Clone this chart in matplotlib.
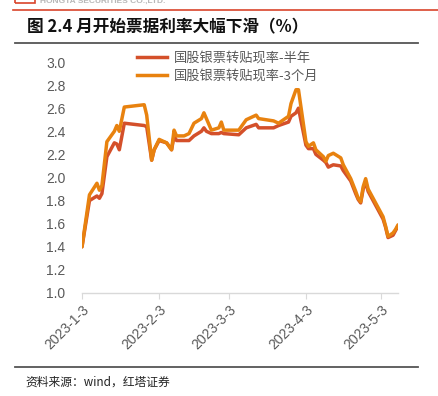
import matplotlib
matplotlib.use('Agg')
from matplotlib import pyplot as plt
from matplotlib.lines import Line2D
from matplotlib.patches import Rectangle
import pandas as pd

plt.rcParams['font.family'] = ['Liberation Sans', 'Noto Sans CJK SC', 'DejaVu Sans']

# trading days
dates = ['2023-01-03', '2023-01-06', '2023-01-09', '2023-01-10', '2023-01-11', '2023-01-13',
         '2023-01-16', '2023-01-17', '2023-01-18', '2023-01-20', '2023-01-28', '2023-01-29',
         '2023-01-31', '2023-02-01', '2023-02-03', '2023-02-06', '2023-02-08', '2023-02-09',
         '2023-02-10', '2023-02-13', '2023-02-15', '2023-02-17', '2023-02-20', '2023-02-21',
         '2023-02-22', '2023-02-24', '2023-02-27', '2023-02-28', '2023-03-01', '2023-03-07',
         '2023-03-10', '2023-03-14', '2023-03-15', '2023-03-21', '2023-03-23', '2023-03-27',
         '2023-03-28', '2023-03-30', '2023-03-31', '2023-04-03', '2023-04-04', '2023-04-06',
         '2023-04-07', '2023-04-10', '2023-04-11', '2023-04-12', '2023-04-14', '2023-04-17',
         '2023-04-18', '2023-04-20', '2023-04-21', '2023-04-23', '2023-04-24', '2023-04-25',
         '2023-04-26', '2023-04-27', '2023-04-28', '2023-05-04', '2023-05-05', '2023-05-06',
         '2023-05-08', '2023-05-09', '2023-05-10']

rate_6m = [1.40, 1.80, 1.84, 1.82, 1.86, 2.18, 2.30, 2.29, 2.24, 2.47, 2.45, 2.44,
           2.15, 2.24, 2.32, 2.30, 2.24, 2.36, 2.32, 2.32, 2.32, 2.36, 2.40, 2.43,
           2.40, 2.38, 2.38, 2.39, 2.38, 2.37, 2.43, 2.46, 2.43, 2.43, 2.45, 2.48,
           2.53, 2.56, 2.60, 2.28, 2.25, 2.25, 2.20, 2.15, 2.13, 2.09, 2.11, 2.10,
           2.06, 2.00, 1.97, 1.86, 1.81, 1.78, 1.90, 1.96, 1.88, 1.64, 1.57, 1.48,
           1.50, 1.54, 1.58]

rate_3m = [1.40, 1.85, 1.95, 1.89, 1.93, 2.31, 2.40, 2.45, 2.40, 2.61, 2.63, 2.54,
           2.15, 2.24, 2.33, 2.30, 2.24, 2.41, 2.36, 2.36, 2.38, 2.47, 2.51, 2.56,
           2.51, 2.41, 2.43, 2.48, 2.41, 2.41, 2.50, 2.54, 2.51, 2.49, 2.47, 2.53,
           2.64, 2.76, 2.76, 2.31, 2.27, 2.30, 2.24, 2.18, 2.14, 2.19, 2.21, 2.17,
           2.11, 2.03, 1.99, 1.88, 1.82, 1.79, 1.92, 1.99, 1.90, 1.66, 1.58, 1.49,
           1.52, 1.55, 1.59]

labels = ['国股银票转贴现率-半年', '国股银票转贴现率-3个月']
tick_dates = ['2023-01-03', '2023-02-03', '2023-03-03', '2023-04-03', '2023-05-03']
tick_labels = ['2023-1-3', '2023-2-3', '2023-3-3', '2023-4-3', '2023-5-3']
colors = ['#D4502A', '#E8820F']

W, H = 438, 396
fig = plt.figure(figsize=(W / 100, H / 100), dpi=100)
ax = fig.add_axes([82 / W, 1 - 293 / H, (398 - 82) / W, 231 / H])

x = pd.to_datetime(dates)
ax.plot(x, rate_6m, color=colors[0], lw=2.5, solid_joinstyle='round', solid_capstyle='round')
ax.plot(x, rate_3m, color=colors[1], lw=2.5, solid_joinstyle='round', solid_capstyle='round')

ax.set_xlim(pd.Timestamp('2023-01-03'), pd.Timestamp('2023-05-10'))
ax.set_ylim(1.0, 3.0)
ax.set_yticks([1.0 + 0.2 * i for i in range(11)])
ax.yaxis.set_major_formatter(matplotlib.ticker.FormatStrFormatter('%.1f'))
ax.set_xticks(pd.to_datetime(tick_dates))
ax.set_xticklabels(tick_labels, rotation=45, ha='right', va='top', rotation_mode='anchor')

for s in ['top', 'right', 'left']:
    ax.spines[s].set_visible(False)
ax.spines['bottom'].set_color('#D9D9D9')
ax.spines['bottom'].set_linewidth(1.0)
ax.tick_params(axis='y', length=0, labelsize=10, labelcolor='#595959', pad=12)
ax.tick_params(axis='x', length=4, color='#D9D9D9', labelsize=10, labelcolor='#595959', pad=3)

handles = [Line2D([], [], color=c, lw=2.5) for c in colors]
leg = fig.legend(handles, labels, loc='upper left', bbox_to_anchor=(125 / W, 1 - 40 / H),
                 frameon=False, handlelength=2.3, handletextpad=0.5, labelspacing=0.35,
                 prop={'family': ['Noto Sans CJK SC', 'DejaVu Sans'], 'size': 9.5})
for t in leg.get_texts():
    t.set_color('#595959')

# page decorations
fig.add_artist(Rectangle((15 / W, 1 - 3 / H), 20 / W, 5 / H, fill=False, ec='#D9442B', lw=1.2))
fig.add_artist(Line2D([13 / W, 1], [1 - 9.5 / H] * 2, color='#D9442B', lw=1.2))
fig.add_artist(Line2D([15 / W, 418 / W], [1 - 43 / H] * 2, color='#555555', lw=1.3))
fig.add_artist(Line2D([15 / W, 418 / W], [1 - 367 / H] * 2, color='#555555', lw=1.3))
fig.text(40 / W, 1 - 1 / H, 'HONGTA SECURITIES CO.,LTD.', fontsize=6, color='#B8B8B8',
         va='center', fontweight='bold')
fig.text(27 / W, 1 - 27 / H, '图 2.4 月开始票据利率大幅下滑（%）', fontsize=12, fontweight='bold',
         family=['Noto Sans CJK SC', 'DejaVu Sans'], va='center', ha='left', color='#111111')
fig.text(25 / W, 1 - 382 / H, '资料来源：wind，红塔证券', fontsize=8.5,
         family=['Noto Sans CJK SC', 'DejaVu Sans'], va='center', ha='left', color='#222222')

fig.savefig('out.png', dpi=100, facecolor='white')
